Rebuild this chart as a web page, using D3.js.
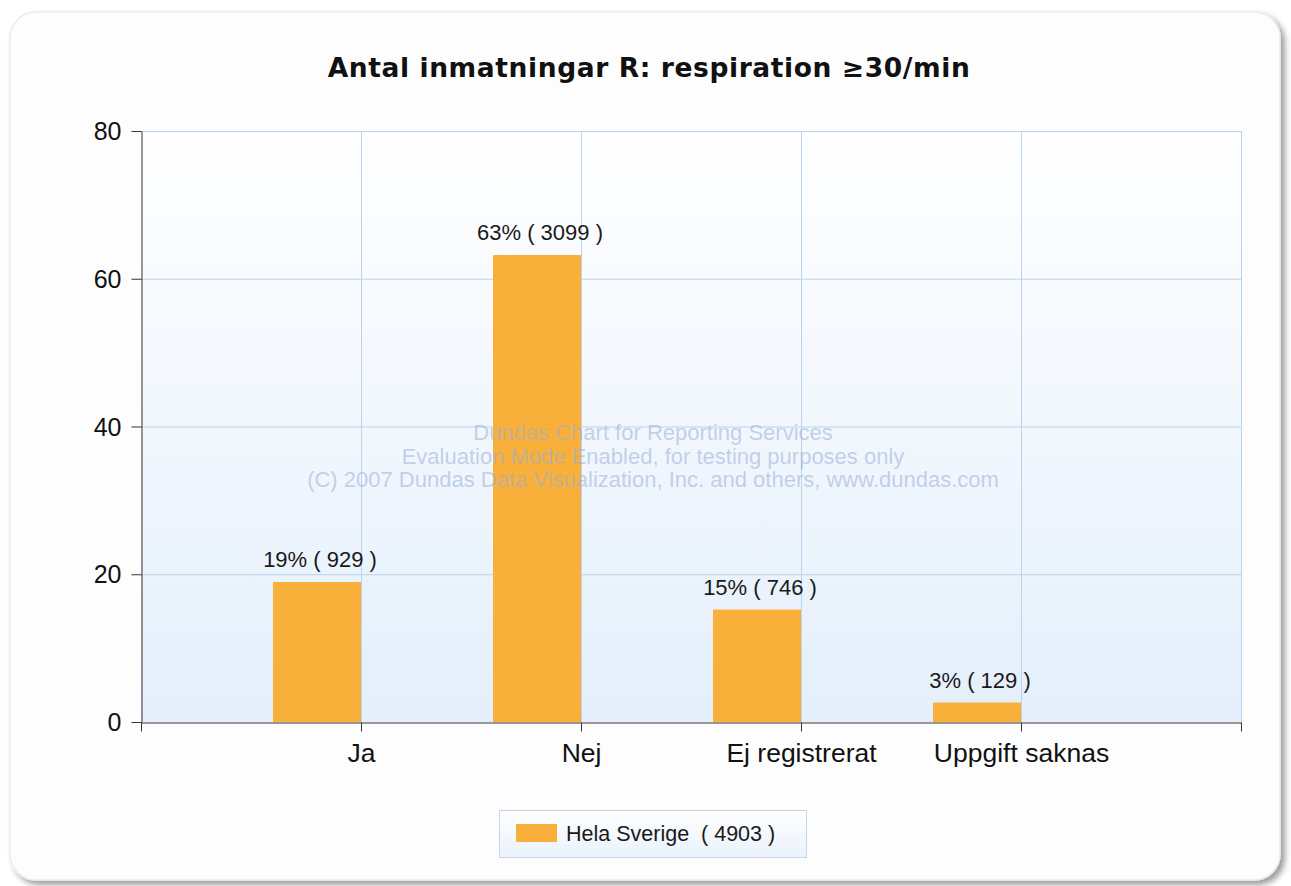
<!DOCTYPE html>
<html><head><meta charset="utf-8">
<script src="https://cdn.jsdelivr.net/npm/d3@7"></script>
<style>html,body{margin:0;padding:0;background:#fff;}svg{display:block;}</style>
</head><body>
<script>
const categories = ["Ja", "Nej", "Ej registrerat", "Uppgift saknas"];
const percentValues = [18.95, 63.21, 15.22, 2.63];
const counts = [929, 3099, 746, 129];
const pctLabels = ["19%", "63%", "15%", "3%"];
const yTicks = [0, 20, 40, 60, 80];
const seriesName = "Hela Sverige";
const seriesTotal = 4903;
const titleText = "Antal inmatningar R: respiration \u226530/min";
const watermark = ["Dundas Chart for Reporting Services",
  "Evaluation Mode Enabled, for testing purposes only",
  "(C) 2007 Dundas Data Visualization, Inc. and others, www.dundas.com"];

const W = 1291, H = 886;
const svg = d3.select("body").append("svg").attr("width", W).attr("height", H);
const defs = svg.append("defs");

const sh = defs.append("filter").attr("id","shadow").attr("x","-5%").attr("y","-5%").attr("width","110%").attr("height","110%");
sh.append("feGaussianBlur").attr("in","SourceAlpha").attr("stdDeviation",3);
sh.append("feOffset").attr("dx",4).attr("dy",4).attr("result","ob");
sh.append("feComponentTransfer").append("feFuncA").attr("type","linear").attr("slope",0.4);
const mg = sh.append("feMerge"); mg.append("feMergeNode"); mg.append("feMergeNode").attr("in","SourceGraphic");

const bg = defs.append("linearGradient").attr("id","plotbg").attr("x1",0).attr("y1",0).attr("x2",0).attr("y2",1);
bg.append("stop").attr("offset","0%").attr("stop-color","#ffffff");
bg.append("stop").attr("offset","100%").attr("stop-color","#e4effb");
const lg = defs.append("linearGradient").attr("id","legbg").attr("x1",0).attr("y1",0).attr("x2",0).attr("y2",1);
lg.append("stop").attr("offset","0%").attr("stop-color","#ffffff");
lg.append("stop").attr("offset","100%").attr("stop-color","#eaf2fb");

// frame
svg.append("rect").attr("x",10).attr("y",12).attr("width",1270).attr("height",868)
  .attr("rx",26).attr("ry",26).attr("fill","#fdfdfd").attr("stroke","#ececec").attr("stroke-width",1.5)
  .attr("filter","url(#shadow)");

// title
svg.append("text").attr("x",649).attr("y",77).attr("text-anchor","middle")
  .attr("font-family","DejaVu Sans, Verdana, sans-serif").attr("font-weight","bold")
  .attr("font-size",26.5).attr("letter-spacing",0.6).attr("fill","#111").text(titleText);

const L = 141, R = 1241, T = 131, B = 722;
const x = d3.scaleLinear().domain([0, categories.length + 1]).range([L, R]);
const y = d3.scaleLinear().domain([0, 80]).range([B, T]);

svg.append("rect").attr("x",L).attr("y",T).attr("width",R-L).attr("height",B-T).attr("fill","url(#plotbg)");

// gridlines
const g = svg.append("g");
g.selectAll("line.h").data(yTicks.slice(1)).join("line")
  .attr("x1",L).attr("x2",R).attr("y1",d=>y(d)+0.5).attr("y2",d=>y(d)+0.5)
  .attr("stroke","#bad3ee").attr("stroke-width",1);
g.selectAll("line.v").data(d3.range(1, categories.length + 2)).join("line")
  .attr("x1",d=>Math.round(x(d))+0.5).attr("x2",d=>Math.round(x(d))+0.5).attr("y1",T).attr("y2",B)
  .attr("stroke","#bad3ee").attr("stroke-width",1);

// bars
const barW = 88;
svg.append("g").selectAll("rect").data(percentValues).join("rect")
  .attr("x",(d,i)=>x(i+1)-barW).attr("width",barW)
  .attr("y",d=>y(d)).attr("height",d=>B-y(d))
  .attr("fill","#f8b03b");

// watermark (drawn over bars)
svg.append("g").selectAll("text").data(watermark).join("text")
  .attr("x",653).attr("y",(d,i)=>440 + i*23.5).attr("text-anchor","middle")
  .attr("font-family","Liberation Sans, Arial, sans-serif").attr("font-size",22)
  .attr("fill","#98aed6").attr("fill-opacity",0.55).text(d=>d);

// data labels
svg.append("g").selectAll("text").data(percentValues).join("text")
  .attr("x",(d,i)=>x(i+1)-barW/2+3).attr("y",d=>y(d)-15).attr("text-anchor","middle")
  .attr("font-family","Liberation Sans, Arial, sans-serif").attr("font-size",22).attr("fill","#1a1a1a")
  .text((d,i)=>`${pctLabels[i]} ( ${counts[i]} )`);

// y axis
const ya = svg.append("g").attr("transform",`translate(${L+0.5},0)`)
  .call(d3.axisLeft(y).tickValues(yTicks).tickSize(10).tickPadding(10).tickSizeOuter(0));
ya.select(".domain").attr("stroke","#333");
ya.selectAll(".tick line").attr("stroke","#333");
ya.selectAll(".tick text").attr("font-family","Liberation Sans, Arial, sans-serif").attr("font-size",25).attr("fill","#111").attr("dy","0.34em");

// x axis
const xa = svg.append("g").attr("transform",`translate(0,${B+0.5})`)
  .call(d3.axisBottom(x).tickValues(d3.range(0, categories.length + 2)).tickSize(9).tickSizeOuter(0)
    .tickFormat(d => (d >= 1 && d <= categories.length) ? categories[d-1] : ""));
xa.select(".domain").attr("stroke","#333");
xa.selectAll(".tick line").attr("stroke","#333");
xa.selectAll(".tick text").attr("font-family","Liberation Sans, Arial, sans-serif").attr("font-size",26.5).attr("fill","#111").attr("dy","1.05em");

// legend
const leg = svg.append("g");
leg.append("rect").attr("x",499.5).attr("y",810.5).attr("width",307).attr("height",47)
  .attr("fill","url(#legbg)").attr("stroke","#c5d6ec");
leg.append("rect").attr("x",516).attr("y",824).attr("width",41).attr("height",18).attr("fill","#f8b03b");
leg.append("text").attr("x",566).attr("y",841).attr("font-family","Liberation Sans, Arial, sans-serif")
  .attr("font-size",21.5).attr("fill","#1a1a1a").attr("xml:space","preserve")
  .text(`${seriesName}  ( ${seriesTotal} )`);
</script>
</body></html>
